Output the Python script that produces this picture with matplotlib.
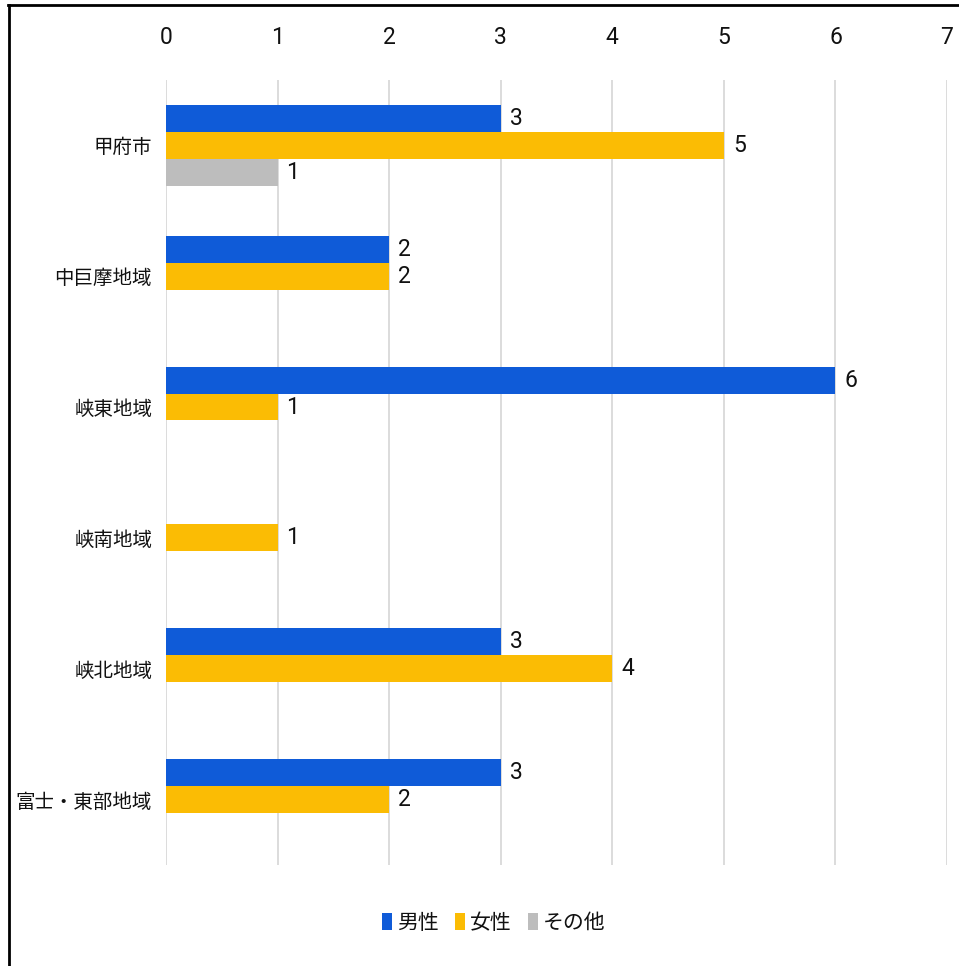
import matplotlib.pyplot as plt
import numpy as np
from matplotlib.lines import Line2D
from matplotlib.patches import Patch

plt.rcParams['font.family'] = ['Noto Sans CJK JP', 'DejaVu Sans']
num_font = ['Roboto', 'DejaVu Sans']

regions = ['甲府市', '中巨摩地域', '峡東地域', '峡南地域', '峡北地域', '富士・東部地域']
series_names = ['男性', '女性', 'その他']
male = [3, 2, 6, 0, 3, 3]
female = [5, 2, 1, 1, 4, 2]
other = [1, 0, 0, 0, 0, 0]
colors = ['#0f5bd8', '#fbbc04', '#bdbdbd']
xticks = [0, 1, 2, 3, 4, 5, 6, 7]

fig = plt.figure(figsize=(9.59, 9.66), dpi=100)
ax = fig.add_axes([0.1731, 0.1046, 0.8144, 0.8126])

y = np.arange(len(regions))
h = 0.205
for i, (vals, col) in enumerate(zip([male, female, other], colors)):
    ys = y + (i - 1) * h
    for yy, v in zip(ys, vals):
        if v <= 0:
            continue
        ax.barh(yy, v, height=h, color=col, zorder=3)
        ax.text(v + 0.08, yy, str(v), va='center', ha='left',
                fontsize=16.5, color='#111111', family=num_font)

ax.set_xlim(0, 7)
ax.set_ylim(len(regions) - 0.5, -0.5)
ax.set_xticks(xticks)
ax.set_xticklabels([str(t) for t in xticks], fontsize=16.5, color='#111111',
                   family=num_font)
ax.xaxis.tick_top()
ax.tick_params(axis='x', length=0, pad=22)
ax.set_yticks(y)
ax.set_yticklabels(regions, fontsize=14, color='#111111')
ax.tick_params(axis='y', length=0, pad=10)
ax.grid(axis='x', color='#d9d9d9', linewidth=1.3, zorder=0)
for s in ax.spines.values():
    s.set_visible(False)

handles = [Patch(facecolor=c, edgecolor='none') for c in colors]
fig.legend(handles, series_names, loc='center', bbox_to_anchor=(0.515, 0.045),
           ncol=3, frameon=False, fontsize=15, handlelength=0.45, handleheight=0.9,
           handletextpad=0.25, columnspacing=0.8, labelcolor='#111111')

# frame lines at left and top edge
fig.add_artist(Line2D([8.5 / 959, 8.5 / 959], [0, 1 - 5 / 966], color='black',
                      linewidth=2, transform=fig.transFigure))
fig.add_artist(Line2D([8 / 959, 1], [1 - 5 / 966, 1 - 5 / 966], color='black',
                      linewidth=2, transform=fig.transFigure))

fig.savefig('out.png', dpi=100, facecolor='white')
